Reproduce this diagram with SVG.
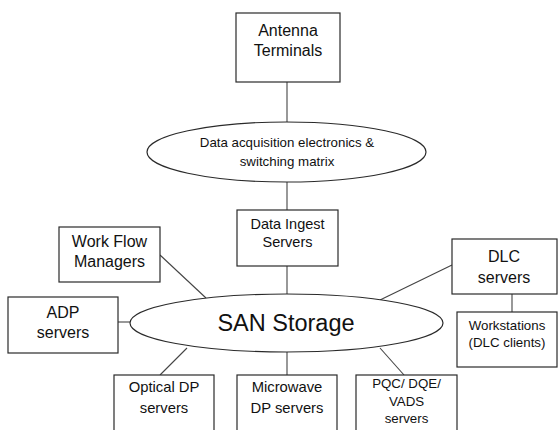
<svg xmlns="http://www.w3.org/2000/svg" width="558" height="430" viewBox="0 0 558 430">
  <style>
    .box { fill: #ffffff; stroke: #2a2a2a; stroke-width: 1.2; }
    .oval { fill: #ffffff; stroke: #2a2a2a; stroke-width: 1.2; }
    .link { stroke: #444444; stroke-width: 1.1; fill: none; }
    text { font-family: "Liberation Sans", Arial, sans-serif; fill: #111111; text-anchor: middle; }
    .t16 { font-size: 16px; }
    .t15 { font-size: 14.8px; }
    .t14 { font-size: 14.5px; }
    .t13 { font-size: 13.3px; }
    .big { font-size: 23.5px; }
  </style>
  <rect width="558" height="430" fill="#ffffff"/>

  <g id="connectors">
    <line class="link" x1="287" y1="82" x2="287" y2="122"/>
    <line class="link" x1="287" y1="182" x2="287" y2="210"/>
    <line class="link" x1="287" y1="266" x2="287" y2="294"/>
    <line class="link" x1="160" y1="255" x2="206" y2="298"/>
    <line class="link" x1="118" y1="322" x2="130" y2="322"/>
    <line class="link" x1="160" y1="375" x2="187" y2="348"/>
    <line class="link" x1="287" y1="352" x2="287" y2="375"/>
    <line class="link" x1="380" y1="348" x2="404" y2="375"/>
    <line class="link" x1="452" y1="265" x2="380" y2="300"/>
    <line class="link" x1="512" y1="294" x2="512" y2="312"/>
  </g>

  <g id="antenna-terminals">
    <rect class="box" x="236" y="13" width="104" height="69"/>
    <text class="t16" x="288" y="36">Antenna</text>
    <text class="t16" x="288" y="56">Terminals</text>
  </g>

  <g id="data-acquisition">
    <ellipse class="oval" cx="286.5" cy="152" rx="139.5" ry="30"/>
    <text class="t13" x="287" y="147">Data acquisition electronics &amp;</text>
    <text class="t13" x="287" y="166">switching matrix</text>
  </g>

  <g id="data-ingest">
    <rect class="box" x="237" y="210" width="101" height="56"/>
    <text class="t14" x="287.5" y="229">Data Ingest</text>
    <text class="t14" x="287.5" y="247">Servers</text>
  </g>

  <g id="work-flow-managers">
    <rect class="box" x="59" y="227" width="101" height="55"/>
    <text class="t16" x="109.5" y="247">Work Flow</text>
    <text class="t16" x="109.5" y="267">Managers</text>
  </g>

  <g id="adp-servers">
    <rect class="box" x="8" y="297" width="110" height="56"/>
    <text class="t16" x="63" y="318">ADP</text>
    <text class="t16" x="63" y="338">servers</text>
  </g>

  <g id="san-storage">
    <ellipse class="oval" cx="286.5" cy="323" rx="156.5" ry="29"/>
    <text class="big" x="286" y="331">SAN Storage</text>
  </g>

  <g id="dlc-servers">
    <rect class="box" x="452" y="239" width="105" height="55"/>
    <text class="t16" x="504" y="262">DLC</text>
    <text class="t16" x="504" y="283">servers</text>
  </g>

  <g id="workstations">
    <rect class="box" x="457" y="312" width="100" height="55"/>
    <text class="t13" x="507" y="330">Workstations</text>
    <text class="t13" x="507" y="347">(DLC clients)</text>
  </g>

  <g id="optical-dp">
    <rect class="box" x="114" y="375" width="100" height="60"/>
    <text class="t15" x="164" y="392">Optical DP</text>
    <text class="t15" x="164" y="413">servers</text>
  </g>

  <g id="microwave-dp">
    <rect class="box" x="237" y="375" width="100" height="60"/>
    <text class="t15" x="287" y="392">Microwave</text>
    <text class="t15" x="287" y="413">DP servers</text>
  </g>

  <g id="pqc-dqe-vads">
    <rect class="box" x="356" y="375" width="101" height="60"/>
    <text class="t13" x="406.5" y="388">PQC/ DQE/</text>
    <text class="t13" x="406.5" y="406">VADS</text>
    <text class="t13" x="406.5" y="423">servers</text>
  </g>
</svg>
